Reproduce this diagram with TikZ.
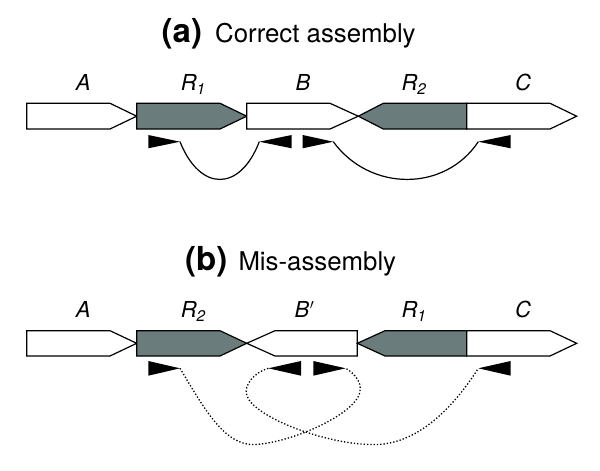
\documentclass[tikz,border=0pt]{standalone}
\usepackage{fontspec}
\setmainfont{TeX Gyre Heros}
\definecolor{repgray}{RGB}{106,124,124}
\tikzset{
  seg/.style={draw=black, line width=1.2pt, fill=white, line join=miter},
  rep/.style={seg, fill=repgray},
  primer/.style={fill=black, draw=none},
  link/.style={line width=1.2pt},
  mislink/.style={line width=1.3pt, dotted},
  lab/.style={anchor=base, inner sep=0pt, font=\fontsize{22}{26}\selectfont\itshape},
  ttl/.style={anchor=base west, inner sep=0pt}
}
\begin{document}
\begin{tikzpicture}[x=1pt,y=-1pt]
\useasboundingbox (0,0) rectangle (600,471);
% ---------- titles
\node[ttl] (ta) at (161.5,42.3) {\makebox[53.5pt][l]{\fontsize{33}{36}\selectfont\bfseries (a)}\fontsize{25.8}{30}\selectfont Correct assembly};
\node[ttl] (tb) at (185,270) {\makebox[53.3pt][l]{\fontsize{33}{36}\selectfont\bfseries (b)}\fontsize{25.8}{30}\selectfont Mis-assembly};
% ---------- panel (a)
\node[lab] (la) at (83.3,90.7) {A};
\node[lab] (lr1) at (193.3,90.7) {R\textsubscript{1}};
\node[lab] (lb) at (303,90.7) {B};
\node[lab] (lr2) at (414,90.7) {R\textsubscript{2}};
\node[lab] (lc) at (523,90.7) {C};
\path[seg] (26.7,103.3) -- (110,103.3) -- (136.7,116.2) -- (110,129) -- (26.7,129) -- cycle;
\path[rep] (136.7,103.3) -- (220,103.3) -- (246.7,116.2) -- (220,129) -- (136.7,129) -- cycle;
\path[seg] (246.7,103.3) -- (330,103.3) -- (358.3,116.2) -- (330,129) -- (246.7,129) -- cycle;
\path[rep] (358.3,116.2) -- (383.3,103.3) -- (466.7,103.3) -- (466.7,129) -- (383.3,129) -- cycle;
\path[seg] (466.7,103.3) -- (550,103.3) -- (576.7,116.2) -- (550,129) -- (466.7,129) -- cycle;
% primers (a)
\coordinate (pa1) at (180,141.7);
\coordinate (pa2) at (259.3,141.7);
\coordinate (pa3) at (333.3,141.7);
\coordinate (pa4) at (478.3,141.7);
\path[primer] (148.3,135) -- (pa1) -- (148.3,148.3) -- cycle;
\path[primer] (291.7,135) -- (pa2) -- (291.7,148.3) -- cycle;
\path[primer] (302.7,135) -- (pa3) -- (302.7,148.3) -- cycle;
\path[primer] (510.7,135) -- (pa4) -- (510.7,148.3) -- cycle;
\draw[link] (pa1) .. controls (200,192) and (240,192) .. (pa2);
\draw[link] (pa3) .. controls (370,192) and (445,192) .. (pa4);
% ---------- panel (b)
\node[lab] (la2) at (83.3,317.3) {A};
\node[lab] (lr2b) at (193.3,317.3) {R\textsubscript{2}};
\node[lab, anchor=base west] (lbb) at (294.5,317.3) {B\kern0.5pt$'$};
\node[lab] (lr1b) at (414,317.3) {R\textsubscript{1}};
\node[lab] (lc2) at (523,317.3) {C};
\path[seg] (26.7,330.7) -- (110,330.7) -- (136.7,343.3) -- (110,356) -- (26.7,356) -- cycle;
\path[rep] (136.7,330.7) -- (220,330.7) -- (246.7,343.3) -- (220,356) -- (136.7,356) -- cycle;
\path[seg] (246.7,343.3) -- (275,330.7) -- (357.3,330.7) -- (357.3,356) -- (275,356) -- cycle;
\path[rep] (357.3,343.3) -- (385,330.7) -- (466.7,330.7) -- (466.7,356) -- (385,356) -- cycle;
\path[seg] (466.7,330.7) -- (550,330.7) -- (576.7,343.3) -- (550,356) -- (466.7,356) -- cycle;
% primers (b)
\coordinate (pb1) at (180,368.3);
\coordinate (pb2) at (268.3,368.3);
\coordinate (pb3) at (345.7,368.3);
\coordinate (pb4) at (478.3,368.3);
\path[primer] (148.3,361) -- (pb1) -- (148.3,375.7) -- cycle;
\path[primer] (301,361) -- (pb2) -- (301,375.7) -- cycle;
\path[primer] (313.3,361) -- (pb3) -- (313.3,375.7) -- cycle;
\path[primer] (510.7,361) -- (pb4) -- (510.7,375.7) -- cycle;
\draw[mislink] (pb1) .. controls (205,410) and (225,446) .. (255,444.5)
   .. controls (290,443) and (355,415) .. (360,392)
   .. controls (362,380) and (352,372) .. (pb3);
\draw[mislink] (pb2) .. controls (255,372) and (243,385) .. (247,396)
   .. controls (255,418) and (330,446) .. (377,444.5)
   .. controls (420,443) and (455,405) .. (pb4);
\end{tikzpicture}
\end{document}
